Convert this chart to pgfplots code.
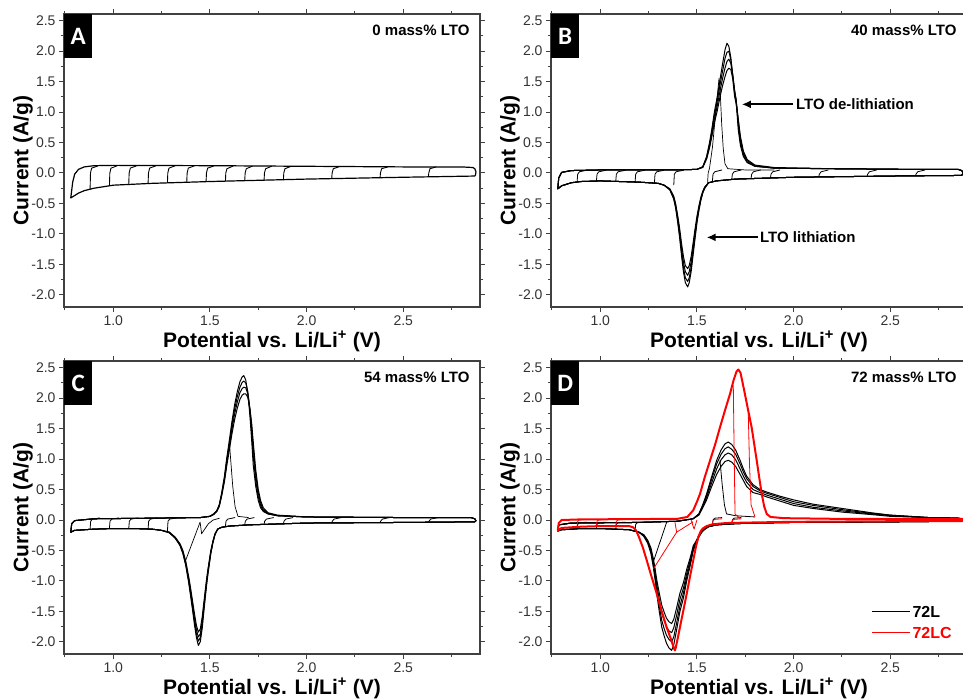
\documentclass[border=0pt]{standalone}
\usepackage{pgfplots}
\pgfplotsset{compat=1.18}
\usepackage{pgfplotstable}
\usetikzlibrary{arrows.meta}
\usepackage{fontspec}
\setmainfont{Liberation Sans}
\newfontfamily\letterfont{Carlito}

\pgfplotstableread{
x y
2.870 -0.05
2.500 -0.07
2.000 -0.10
1.500 -0.14
1.200 -0.17
1.000 -0.20
0.900 -0.25
0.850 -0.29
0.820 -0.33
0.800 -0.37
0.780 -0.41
0.790 -0.15
0.800 -0.02
0.820 0.06
0.850 0.10
0.900 0.12
1.000 0.125
1.500 0.12
2.000 0.11
2.500 0.10
2.800 0.10
2.860 0.09
2.870 0.07
2.876 0.02
2.874 -0.03
2.870 -0.05
}\tblA

\pgfplotstableread{
x y1 y2 y3 y4
2.870 -0.04 -0.04 -0.04 -0.04
2.500 -0.05 -0.05 -0.05 -0.05
2.000 -0.07 -0.07 -0.07 -0.07
1.800 -0.09 -0.09 -0.09 -0.09
1.700 -0.10 -0.10 -0.10 -0.10
1.600 -0.13 -0.13 -0.13 -0.13
1.560 -0.16 -0.16 -0.16 -0.16
1.540 -0.25 -0.25 -0.24 -0.23
1.530 -0.33 -0.32 -0.31 -0.30
1.520 -0.45 -0.44 -0.42 -0.40
1.510 -0.62 -0.60 -0.57 -0.54
1.500 -0.82 -0.79 -0.75 -0.71
1.490 -1.08 -1.03 -0.98 -0.92
1.480 -1.35 -1.29 -1.22 -1.15
1.470 -1.62 -1.55 -1.46 -1.37
1.460 -1.80 -1.72 -1.62 -1.52
1.452 -1.87 -1.78 -1.68 -1.57
1.440 -1.80 -1.72 -1.62 -1.52
1.430 -1.62 -1.55 -1.46 -1.37
1.420 -1.35 -1.29 -1.22 -1.15
1.410 -1.05 -1.01 -0.95 -0.90
1.400 -0.80 -0.77 -0.73 -0.69
1.390 -0.58 -0.56 -0.53 -0.51
1.380 -0.43 -0.42 -0.40 -0.38
1.360 -0.28 -0.27 -0.27 -0.26
1.330 -0.20 -0.20 -0.20 -0.20
1.300 -0.17 -0.17 -0.17 -0.17
1.200 -0.15 -0.15 -0.15 -0.15
1.000 -0.13 -0.13 -0.13 -0.13
0.900 -0.14 -0.14 -0.14 -0.14
0.850 -0.16 -0.16 -0.16 -0.16
0.800 -0.21 -0.21 -0.21 -0.21
0.780 -0.26 -0.26 -0.26 -0.26
0.785 -0.08 -0.08 -0.08 -0.08
0.800 0.01 0.01 0.01 0.01
0.850 0.04 0.04 0.04 0.04
1.000 0.05 0.05 0.05 0.05
1.400 0.05 0.05 0.05 0.05
1.500 0.06 0.06 0.06 0.06
1.530 0.10 0.10 0.10 0.09
1.550 0.27 0.26 0.24 0.23
1.565 0.50 0.47 0.45 0.41
1.576 0.70 0.66 0.62 0.58
1.590 1.00 0.94 0.88 0.82
1.605 1.25 1.18 1.10 1.02
1.620 1.55 1.46 1.36 1.26
1.633 1.80 1.68 1.56 1.44
1.645 2.02 1.88 1.72 1.58
1.655 2.13 1.98 1.83 1.68
1.665 2.08 2.00 1.87 1.72
1.675 1.90 1.86 1.80 1.70
1.685 1.60 1.62 1.60 1.55
1.695 1.35 1.35 1.30 1.25
1.702 1.20 1.22 1.20 1.15
1.708 0.95 1.02 1.05 1.02
1.714 0.70 0.78 0.85 0.88
1.725 0.45 0.50 0.55 0.60
1.740 0.27 0.30 0.33 0.36
1.760 0.17 0.18 0.20 0.22
1.800 0.11 0.11 0.12 0.13
1.900 0.08 0.08 0.08 0.09
2.200 0.07 0.07 0.07 0.07
2.600 0.06 0.06 0.06 0.06
2.850 0.06 0.06 0.06 0.06
2.870 0.04 0.04 0.04 0.04
2.876 0.00 0.00 0.00 0.00
2.870 -0.04 -0.04 -0.04 -0.04
}\tblB

\pgfplotstableread{
x y1 y2 y3 y4
2.870 -0.03 -0.03 -0.03 -0.03
2.500 -0.04 -0.04 -0.04 -0.04
2.000 -0.05 -0.05 -0.05 -0.05
1.800 -0.07 -0.07 -0.07 -0.07
1.700 -0.08 -0.08 -0.08 -0.08
1.600 -0.10 -0.10 -0.10 -0.10
1.560 -0.12 -0.12 -0.12 -0.12
1.540 -0.15 -0.15 -0.15 -0.15
1.526 -0.24 -0.24 -0.23 -0.23
1.515 -0.38 -0.37 -0.36 -0.35
1.504 -0.56 -0.55 -0.53 -0.51
1.490 -0.88 -0.85 -0.83 -0.80
1.483 -1.06 -1.03 -0.99 -0.96
1.475 -1.30 -1.26 -1.22 -1.17
1.466 -1.58 -1.53 -1.48 -1.42
1.460 -1.78 -1.72 -1.66 -1.59
1.450 -2.00 -1.93 -1.87 -1.79
1.440 -2.06 -1.99 -1.92 -1.84
1.430 -1.93 -1.87 -1.80 -1.73
1.420 -1.72 -1.66 -1.61 -1.54
1.410 -1.48 -1.43 -1.38 -1.33
1.400 -1.25 -1.21 -1.17 -1.12
1.390 -1.03 -1.00 -0.97 -0.93
1.375 -0.75 -0.73 -0.71 -0.68
1.360 -0.55 -0.54 -0.52 -0.50
1.345 -0.42 -0.41 -0.40 -0.39
1.320 -0.30 -0.29 -0.29 -0.28
1.290 -0.21 -0.21 -0.20 -0.20
1.250 -0.17 -0.17 -0.17 -0.17
1.200 -0.15 -0.15 -0.15 -0.15
1.100 -0.14 -0.14 -0.14 -0.14
1.000 -0.14 -0.14 -0.14 -0.14
0.900 -0.15 -0.15 -0.15 -0.15
0.800 -0.17 -0.17 -0.17 -0.17
0.780 -0.20 -0.20 -0.20 -0.20
0.785 -0.06 -0.06 -0.06 -0.06
0.800 -0.01 -0.01 -0.01 -0.01
0.900 0.02 0.02 0.02 0.02
1.200 0.03 0.03 0.03 0.03
1.450 0.04 0.04 0.04 0.04
1.500 0.06 0.06 0.06 0.06
1.520 0.10 0.10 0.10 0.09
1.535 0.15 0.15 0.14 0.14
1.548 0.25 0.24 0.23 0.22
1.561 0.45 0.43 0.42 0.40
1.575 0.72 0.69 0.66 0.63
1.587 1.02 0.98 0.94 0.89
1.600 1.30 1.25 1.20 1.14
1.613 1.60 1.54 1.47 1.40
1.627 1.88 1.81 1.73 1.64
1.641 2.10 2.02 1.93 1.83
1.655 2.27 2.18 2.09 1.98
1.667 2.35 2.26 2.16 2.05
1.675 2.37 2.28 2.18 2.07
1.685 2.30 2.25 2.17 2.07
1.695 2.10 2.12 2.08 2.02
1.700 1.95 2.00 1.98 1.95
1.707 1.70 1.78 1.82 1.82
1.716 1.30 1.42 1.52 1.58
1.724 0.90 1.05 1.18 1.28
1.737 0.55 0.64 0.74 0.82
1.750 0.32 0.38 0.44 0.50
1.762 0.20 0.24 0.28 0.32
1.776 0.14 0.15 0.17 0.20
1.800 0.10 0.10 0.11 0.12
1.850 0.07 0.07 0.07 0.08
2.000 0.05 0.05 0.05 0.05
2.500 0.04 0.04 0.04 0.04
2.850 0.04 0.04 0.04 0.04
2.870 0.02 0.02 0.02 0.02
2.876 -0.01 -0.01 -0.01 -0.01
2.870 -0.03 -0.03 -0.03 -0.03
}\tblC

\pgfplotstableread{
x y1 y2 y3 y4
2.870 -0.02 -0.02 -0.02 -0.02
2.500 -0.03 -0.03 -0.03 -0.03
2.000 -0.04 -0.04 -0.04 -0.04
1.800 -0.05 -0.05 -0.05 -0.05
1.700 -0.06 -0.06 -0.06 -0.06
1.600 -0.08 -0.08 -0.08 -0.08
1.560 -0.11 -0.11 -0.11 -0.11
1.540 -0.15 -0.15 -0.15 -0.15
1.525 -0.20 -0.20 -0.19 -0.19
1.510 -0.28 -0.27 -0.26 -0.25
1.495 -0.40 -0.38 -0.36 -0.35
1.481 -0.50 -0.48 -0.45 -0.42
1.465 -0.75 -0.71 -0.66 -0.62
1.447 -1.00 -0.94 -0.88 -0.81
1.430 -1.28 -1.20 -1.12 -1.03
1.412 -1.50 -1.41 -1.30 -1.20
1.395 -1.80 -1.69 -1.56 -1.44
1.380 -2.05 -1.92 -1.77 -1.63
1.369 -2.14 -2.00 -1.85 -1.70
1.355 -2.10 -1.96 -1.82 -1.67
1.342 -2.02 -1.89 -1.75 -1.61
1.330 -1.90 -1.78 -1.65 -1.51
1.318 -1.76 -1.65 -1.53 -1.40
1.305 -1.50 -1.41 -1.30 -1.20
1.292 -1.21 -1.14 -1.06 -0.98
1.282 -0.95 -0.89 -0.83 -0.77
1.274 -0.77 -0.73 -0.68 -0.63
1.262 -0.55 -0.52 -0.49 -0.46
1.245 -0.38 -0.36 -0.35 -0.33
1.225 -0.27 -0.26 -0.25 -0.24
1.200 -0.20 -0.20 -0.20 -0.20
1.150 -0.16 -0.16 -0.16 -0.16
1.000 -0.14 -0.14 -0.14 -0.14
0.900 -0.14 -0.14 -0.14 -0.14
0.800 -0.16 -0.16 -0.16 -0.16
0.780 -0.18 -0.18 -0.18 -0.18
0.785 -0.08 -0.08 -0.08 -0.08
0.850 -0.05 -0.05 -0.05 -0.05
1.200 -0.04 -0.04 -0.04 -0.04
1.400 -0.02 -0.02 -0.02 -0.02
1.480 0.02 0.02 0.02 0.02
1.510 0.10 0.10 0.09 0.08
1.530 0.25 0.24 0.22 0.20
1.550 0.43 0.40 0.37 0.33
1.575 0.70 0.66 0.60 0.54
1.602 0.98 0.92 0.84 0.75
1.625 1.15 1.08 0.99 0.88
1.645 1.25 1.17 1.07 0.96
1.662 1.28 1.20 1.10 0.98
1.680 1.24 1.16 1.07 0.95
1.700 1.15 1.08 0.99 0.88
1.723 0.98 0.92 0.84 0.75
1.740 0.84 0.79 0.72 0.65
1.757 0.72 0.68 0.62 0.55
1.790 0.58 0.55 0.50 0.45
1.826 0.50 0.48 0.45 0.42
1.860 0.46 0.44 0.41 0.38
1.930 0.39 0.37 0.34 0.31
2.000 0.33 0.30 0.27 0.24
2.100 0.26 0.24 0.21 0.19
2.250 0.19 0.17 0.15 0.13
2.400 0.12 0.11 0.10 0.09
2.500 0.08 0.08 0.07 0.06
2.700 0.04 0.04 0.04 0.04
2.850 0.03 0.03 0.03 0.03
2.870 0.02 0.02 0.02 0.02
2.876 0.00 0.00 0.00 0.00
2.870 -0.02 -0.02 -0.02 -0.02
}\tblDk

\pgfplotstableread{
x y
2.870 -0.02
2.500 -0.02
2.000 -0.03
1.800 -0.04
1.650 -0.05
1.580 -0.07
1.550 -0.10
1.530 -0.14
1.520 -0.18
1.507 -0.28
1.494 -0.45
1.481 -0.66
1.464 -0.93
1.447 -1.21
1.430 -1.48
1.412 -1.76
1.400 -1.95
1.390 -2.10
1.386 -2.14
1.380 -2.10
1.365 -1.95
1.343 -1.76
1.318 -1.50
1.292 -1.21
1.265 -0.93
1.240 -0.66
1.220 -0.45
1.200 -0.28
1.185 -0.17
1.170 -0.12
1.150 -0.10
1.000 -0.10
0.900 -0.11
0.800 -0.13
0.780 -0.17
0.785 -0.05
0.800 0.00
0.900 0.01
1.200 0.015
1.400 0.02
1.450 0.05
1.481 0.16
1.500 0.30
1.516 0.43
1.540 0.70
1.568 0.98
1.595 1.25
1.619 1.52
1.645 1.80
1.671 2.07
1.690 2.30
1.705 2.44
1.714 2.47
1.725 2.42
1.735 2.27
1.748 2.07
1.765 1.80
1.783 1.52
1.796 1.25
1.809 0.98
1.822 0.70
1.835 0.43
1.848 0.22
1.861 0.10
1.880 0.05
1.950 0.03
2.200 0.02
2.870 0.02
2.876 0.00
2.870 -0.02
}\tblDr

\tikzset{
  letterbox/.style={fill=black, text=white, font=\letterfont\bfseries\fontsize{25}{25}\selectfont,
    anchor=north west, minimum width=28pt, minimum height=44pt, inner sep=0pt},
  paneltitle/.style={anchor=base east, xshift=-7pt, yshift=-21pt, font=\bfseries\fontsize{15}{15}\selectfont},
}

\pgfplotsset{
  cv/.style={
    scale only axis, width=416pt, height=293pt,
    xmin=0.745, xmax=2.897, ymin=-2.2, ymax=2.61,
    xtick={1,1.5,2,2.5}, ytick={-2,-1.5,-1,-0.5,0,0.5,1,1.5,2,2.5},
    minor xtick={0.75,1.25,1.75,2.25,2.75},
    minor ytick={-1.75,-1.25,-0.75,-0.25,0.25,0.75,1.25,1.75,2.25},
    tick align=outside, major tick length=5pt, minor tick length=3pt,
    axis line style={line width=1.2pt, draw=black!75},
    tick style={line width=1pt, draw=black!75},
    tick label style={font=\fontsize{14}{14}\selectfont, text=black!80},
    /pgf/number format/assume math mode=true,
    /pgf/number format/fixed, /pgf/number format/fixed zerofill,
    /pgf/number format/precision=1,
    xlabel={Potential vs. Li/Li\textsuperscript{+} (V)},
    ylabel={Current (A/g)},
    label style={font=\bfseries\fontsize{21}{21}\selectfont},
    xlabel style={at={(axis description cs:0.5,0)}, anchor=base, yshift=-40pt},
    ylabel style={at={(axis description cs:-0.0986,0.5)}, anchor=center},
    no markers, unbounded coords=jump,
    every axis plot/.append style={line width=1pt, line join=round},
  }
}

\begin{document}
\begin{tikzpicture}
% ---------------- A ----------------
\begin{axis}[cv, at={(64pt,-14pt)}, anchor=north west]
\addplot[black, line width=1.2pt] table[x=x,y=y]{\tblA};
\addplot[black, line width=0.9pt] coordinates {
(0.880,-0.27)(0.882,0.00)(0.888,0.08)(0.920,0.115)(0.9,nan)
(0.980,-0.21)(0.982,0.00)(0.988,0.08)(1.020,0.118)(1,nan)
(1.080,-0.185)(1.082,0.00)(1.088,0.08)(1.120,0.118)(1,nan)
(1.180,-0.17)(1.182,0.00)(1.188,0.08)(1.220,0.118)(1,nan)
(1.280,-0.16)(1.282,0.00)(1.288,0.08)(1.320,0.118)(1,nan)
(1.380,-0.15)(1.382,0.00)(1.388,0.08)(1.420,0.118)(1,nan)
(1.480,-0.14)(1.482,0.00)(1.488,0.08)(1.520,0.115)(1,nan)
(1.580,-0.135)(1.582,0.00)(1.588,0.07)(1.620,0.115)(1,nan)
(1.680,-0.125)(1.682,0.00)(1.688,0.07)(1.720,0.113)(1,nan)
(1.780,-0.12)(1.782,0.00)(1.788,0.07)(1.820,0.112)(1,nan)
(1.880,-0.11)(1.882,0.00)(1.888,0.07)(1.920,0.11)(1,nan)
(2.130,-0.09)(2.132,0.00)(2.138,0.07)(2.170,0.105)(1,nan)
(2.380,-0.077)(2.382,0.00)(2.388,0.07)(2.420,0.10)(1,nan)
(2.630,-0.063)(2.632,0.00)(2.638,0.07)(2.670,0.10)
};
\node[letterbox] at (rel axis cs:0,1) {A};
\node[paneltitle] at (rel axis cs:1,1) {0 mass\% LTO};
\end{axis}

% ---------------- B ----------------
\begin{axis}[cv, at={(551pt,-14pt)}, anchor=north west]
\addplot[black] table[x=x,y=y1]{\tblB};
\addplot[black] table[x=x,y=y2]{\tblB};
\addplot[black] table[x=x,y=y3]{\tblB};
\addplot[black] table[x=x,y=y4]{\tblB};
\addplot[black, line width=0.7pt] coordinates {
(1.555,-0.16)(1.558,0.00)(1.565,0.08)(1.580,0.42)(1.595,0.92)(1.607,1.32)(1.614,1.55)
(1.620,1.35)(1.628,0.80)(1.636,0.40)(1.645,0.15)(1.660,0.07)(1.750,0.05)(1.900,0.05)
};
\addplot[black, line width=0.8pt] coordinates {
(0.880,-0.145)(0.883,-0.02)(0.892,0.02)(0.930,0.045)(1,nan)
(0.980,-0.13)(0.983,-0.02)(0.992,0.02)(1.030,0.045)(1,nan)
(1.080,-0.138)(1.083,-0.02)(1.092,0.02)(1.130,0.045)(1,nan)
(1.180,-0.148)(1.183,-0.02)(1.192,0.02)(1.230,0.045)(1,nan)
(1.280,-0.165)(1.283,-0.02)(1.292,0.02)(1.330,0.045)(1,nan)
(1.380,-0.20)(1.383,-0.02)(1.392,0.02)(1.430,0.045)(1,nan)
(1.580,-0.135)(1.583,-0.02)(1.592,0.02)(1.630,0.05)(1,nan)
(1.680,-0.105)(1.683,-0.02)(1.692,0.02)(1.730,0.05)(1,nan)
(1.780,-0.09)(1.783,-0.02)(1.792,0.02)(1.830,0.05)(1,nan)
(1.880,-0.085)(1.883,-0.02)(1.892,0.02)(1.930,0.05)(1,nan)
(2.130,-0.065)(2.133,-0.02)(2.142,0.02)(2.180,0.05)(1,nan)
(2.380,-0.055)(2.383,-0.02)(2.392,0.02)(2.430,0.05)(1,nan)
(2.630,-0.045)(2.633,-0.02)(2.642,0.02)(2.680,0.05)
};
\draw[line width=1.8pt, -{Latex[length=9pt, width=8pt]}] (axis cs:1.998,1.127) -- (axis cs:1.732,1.127);
\node[anchor=west, inner sep=0pt, font=\bfseries\fontsize{15}{15}\selectfont] at (axis cs:2.012,1.127) {LTO de-lithiation};
\draw[line width=1.8pt, -{Latex[length=9pt, width=8pt]}] (axis cs:1.817,-1.057) -- (axis cs:1.550,-1.057);
\node[anchor=west, inner sep=0pt, font=\bfseries\fontsize{15}{15}\selectfont] at (axis cs:1.826,-1.057) {LTO lithiation};
\node[letterbox] at (rel axis cs:0,1) {B};
\node[paneltitle] at (rel axis cs:1,1) {40 mass\% LTO};
\end{axis}

% ---------------- C ----------------
\begin{axis}[cv, at={(64pt,-361pt)}, anchor=north west]
\addplot[black] table[x=x,y=y1]{\tblC};
\addplot[black] table[x=x,y=y2]{\tblC};
\addplot[black] table[x=x,y=y3]{\tblC};
\addplot[black] table[x=x,y=y4]{\tblC};
\addplot[black, line width=0.7pt] coordinates {
(1.371,-0.69)(1.449,-0.035)(1.457,-0.226)(1.492,-0.06)(1.517,0.00)(1.550,0.03)(1,nan)
(1.600,1.30)(1.607,1.00)(1.618,0.55)(1.630,0.22)(1.645,0.06)(1.700,0.04)
};
\addplot[black, line width=0.8pt] coordinates {
(0.880,-0.15)(0.883,-0.02)(0.892,0.015)(0.930,0.035)(1,nan)
(0.980,-0.14)(0.983,-0.02)(0.992,0.015)(1.030,0.035)(1,nan)
(1.080,-0.14)(1.083,-0.02)(1.092,0.015)(1.130,0.035)(1,nan)
(1.180,-0.15)(1.183,-0.02)(1.192,0.015)(1.230,0.035)(1,nan)
(1.280,-0.19)(1.283,-0.02)(1.292,0.015)(1.330,0.035)(1,nan)
(1.580,-0.11)(1.583,-0.02)(1.592,0.015)(1.630,0.04)(1,nan)
(1.680,-0.08)(1.683,-0.02)(1.692,0.015)(1.730,0.04)(1,nan)
(1.780,-0.07)(1.783,-0.02)(1.792,0.015)(1.830,0.04)(1,nan)
(1.880,-0.06)(1.883,-0.02)(1.892,0.015)(1.930,0.04)(1,nan)
(2.130,-0.048)(2.133,-0.02)(2.142,0.015)(2.180,0.04)(1,nan)
(2.380,-0.043)(2.383,-0.02)(2.392,0.015)(2.430,0.04)(1,nan)
(2.630,-0.037)(2.633,-0.02)(2.642,0.015)(2.680,0.04)
};
\node[letterbox] at (rel axis cs:0,1) {C};
\node[paneltitle] at (rel axis cs:1,1) {54 mass\% LTO};
\end{axis}

% ---------------- D ----------------
\begin{axis}[cv, at={(551pt,-361pt)}, anchor=north west]
\addplot[black] table[x=x,y=y1]{\tblDk};
\addplot[black] table[x=x,y=y2]{\tblDk};
\addplot[black] table[x=x,y=y3]{\tblDk};
\addplot[black] table[x=x,y=y4]{\tblDk};
\addplot[black, line width=0.8pt] coordinates {
(1.345,-0.02)(1.275,-0.68)(1,nan)
(1.619,0.98)(1.630,0.60)(1.642,0.25)(1.653,0.10)(1.700,0.07)(1.800,0.05)(1,nan)
(0.880,-0.14)(0.883,-0.07)(0.892,-0.045)(0.930,-0.035)(1,nan)
(0.980,-0.14)(0.983,-0.07)(0.992,-0.045)(1.030,-0.035)(1,nan)
(1.080,-0.145)(1.083,-0.07)(1.092,-0.045)(1.130,-0.035)(1,nan)
(1.180,-0.175)(1.183,-0.07)(1.192,-0.045)(1.230,-0.03)(1,nan)
(1.580,-0.075)(1.583,0.00)(1.592,0.03)(1.630,0.04)(1,nan)
(1.680,-0.058)(1.683,0.00)(1.692,0.03)(1.730,0.04)
};
\addplot[red, line width=2pt] table[x=x,y=y]{\tblDr};
\addplot[red, line width=0.8pt] coordinates {
(1.386,-0.035)(1.395,-0.20)(1.480,-0.03)(1,nan)
(1.395,-0.20)(1.275,-0.80)(1,nan)
(1.470,0.00)(1.485,-0.15)(1.500,0.00)(1,nan)
(1.688,2.21)(1.692,1.20)(1.697,0.10)(1.720,0.03)(1,nan)
(1.765,1.80)(1.772,0.90)(1.780,0.25)(1.800,0.05)(1,nan)
(0.880,-0.105)(0.883,-0.02)(0.892,0.00)(0.930,0.01)(1,nan)
(0.980,-0.10)(0.983,-0.02)(0.992,0.00)(1.030,0.01)(1,nan)
(1.080,-0.10)(1.083,-0.02)(1.092,0.00)(1.130,0.01)(1,nan)
(1.580,-0.065)(1.583,-0.01)(1.592,0.01)(1.630,0.02)(1,nan)
(1.680,-0.05)(1.683,-0.01)(1.692,0.01)(1.730,0.02)
};
\draw[black, line width=1pt] (rel axis cs:0.772,0.144) -- (rel axis cs:0.863,0.144)
  node[anchor=west, inner sep=2pt, font=\bfseries\fontsize{16}{16}\selectfont, text=black] {72L};
\draw[red, line width=1pt] (rel axis cs:0.772,0.072) -- (rel axis cs:0.863,0.072)
  node[anchor=west, inner sep=2pt, font=\bfseries\fontsize{16}{16}\selectfont, text=red] {72LC};
\node[letterbox] at (rel axis cs:0,1) {D};
\node[paneltitle] at (rel axis cs:1,1) {72 mass\% LTO};
\end{axis}

\pgfresetboundingbox
\path[use as bounding box] (0pt,0pt) rectangle (963pt,-699pt);
\end{tikzpicture}
\end{document}
